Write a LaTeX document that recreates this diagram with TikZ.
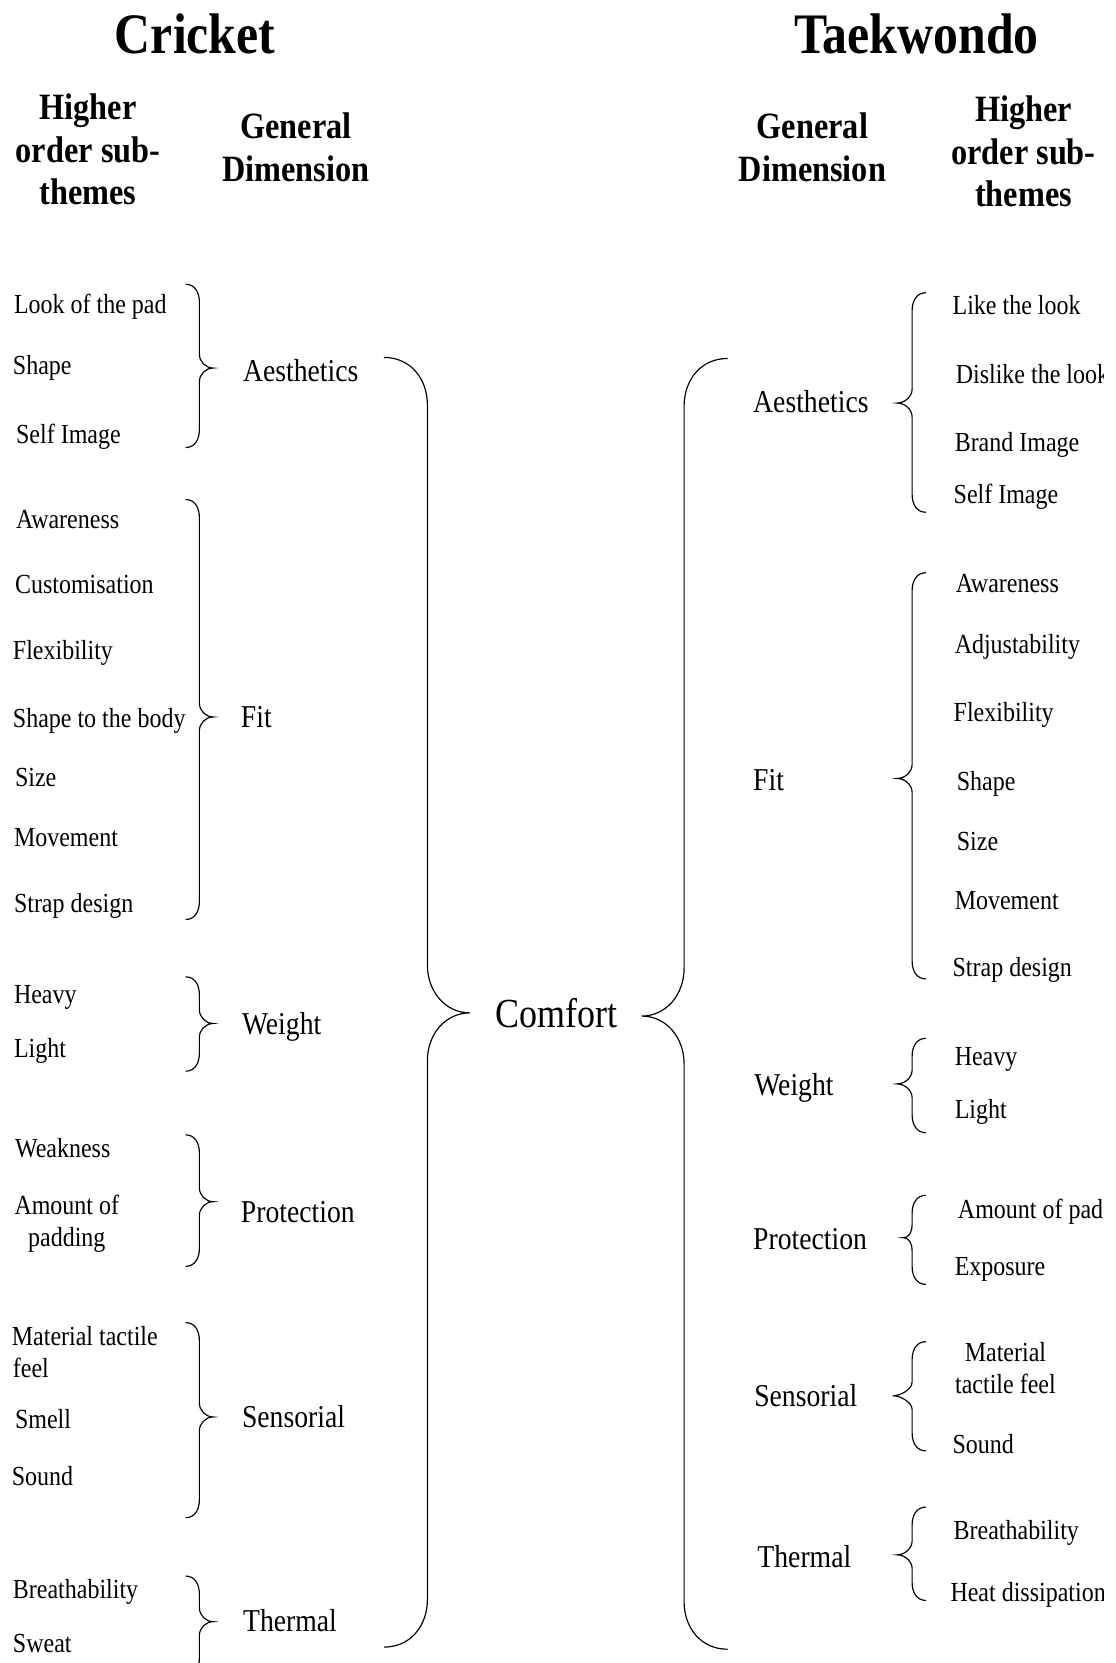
\documentclass[tikz,border=0pt]{standalone}
\usepackage{fontspec}
\setmainfont{Liberation Serif}[FakeStretch=0.87]
\begin{document}
% left-hand curl: tip points right (args: top, tip, bottom)
\newcommand{\curltoright}[3]{%
  \draw[curl] (175,#1) .. controls (184,#1) and (188,#1+8) .. (188,#1+17)
    -- (188,#2-13) .. controls (188,#2-6) and (194,#2) .. (201,#2)
    .. controls (194,#2) and (188,#2+6) .. (188,#2+13)
    -- (188,#3-17) .. controls (188,#3-8) and (184,#3) .. (175,#3);}
% right-hand curl: tip points left (args: top, tip, bottom, tip x)
\newcommand{\curltoleft}[4]{%
  \draw[curl] (873,#1) .. controls (864,#1) and (860,#1+8) .. (860,#1+17)
    -- (860,#2-13) .. controls (860,#2-6) and (#4+7,#2) .. (#4,#2)
    .. controls (#4+7,#2) and (860,#2+6) .. (860,#2+13)
    -- (860,#3-17) .. controls (860,#3-8) and (864,#3) .. (873,#3);}
\begin{tikzpicture}[x=1pt,y=-1pt,
  curl/.style={line width=1.1pt,black},
  item/.style={anchor=base west,inner sep=0pt,font=\fontsize{26}{30}\selectfont},
  itemc/.style={anchor=base,inner sep=0pt,font=\fontsize{26}{30}\selectfont},
  dim/.style={anchor=base west,inner sep=0pt,font=\fontsize{30}{34}\selectfont},
  head/.style={anchor=base,inner sep=0pt,font=\bfseries\fontsize{35}{40}\selectfont},
  title/.style={anchor=base,inner sep=0pt,font=\bfseries\fontsize{54}{60}\selectfont}]
\useasboundingbox (0,0) rectangle (1052,1568);
% the drawing area ends a little short of the right edge
\clip (0,0) rectangle (1040,1568);

% titles
\node[title] (tcr) at (184,50) {Cricket};
\node[title] (ttk) at (864,50) {Taekwondo};

% column headings, cricket side
\node[head] (lh1) at (83,113) {Higher};
\node[head] (lh2) at (83,153) {order sub-};
\node[head] (lh3) at (83,193) {themes};
\node[head] (lg1) at (279,131) {General};
\node[head] (lg2) at (279,171) {Dimension};
% column headings, taekwondo side
\node[head] (rg1) at (766,131) {General};
\node[head] (rg2) at (766,171) {Dimension};
\node[head] (rh1) at (965,115) {Higher};
\node[head] (rh2) at (965,155) {order sub-};
\node[head] (rh3) at (965,195) {themes};

% centre
\node[anchor=base,inner sep=0pt,font=\fontsize{39}{44}\selectfont] (comfort) at (525,969) {Comfort};

% cricket sub-themes
\node[item] (c1) at (13,296) {Look of the pad};
\node[item] (c2) at (12,353) {Shape};
\node[item] (c3) at (15,418) {Self Image};
\node[item] (c4) at (15,498) {Awareness};
\node[item] (c5) at (14,560) {Customisation};
\node[item] (c6) at (12,622) {Flexibility};
\node[item] (c7) at (12,686) {Shape to the body};
\node[item] (c8) at (14,742) {Size};
\node[item] (c9) at (13,798) {Movement};
\node[item] (c10) at (13,860) {Strap design};
\node[item] (c11) at (13,946) {Heavy};
\node[item] (c12) at (13,997) {Light};
\node[item] (c13) at (14,1091) {Weakness};
\node[itemc] (c14a) at (63,1145) {Amount of};
\node[itemc] (c14b) at (63,1175) {padding};
\node[item] (c15a) at (11,1269) {Material tactile};
\node[item] (c15b) at (12,1299) {feel};
\node[item] (c16) at (14,1347) {Smell};
\node[item] (c17) at (11,1401) {Sound};
\node[item] (c18) at (12,1507) {Breathability};
\node[item] (c19) at (12,1558) {Sweat};

% cricket dimensions
\node[dim] (cd1) at (229,360) {Aesthetics};
\node[dim] (cd2) at (227,686) {Fit};
\node[dim] (cd3) at (228,975) {Weight};
\node[dim] (cd4) at (227,1153) {Protection};
\node[dim] (cd5) at (228,1346) {Sensorial};
\node[dim] (cd6) at (229,1538) {Thermal};

% taekwondo dimensions
\node[dim] (td1) at (710,389) {Aesthetics};
\node[dim] (td2) at (710,745) {Fit};
\node[dim] (td3) at (711,1033) {Weight};
\node[dim] (td4) at (710,1178) {Protection};
\node[dim] (td5) at (711,1326) {Sensorial};
\node[dim] (td6) at (714,1478) {Thermal};

% taekwondo sub-themes
\node[item] (t1) at (898,297) {Like the look};
\node[item] (t2) at (901,362) {Dislike the look};
\node[item] (t3) at (900,426) {Brand Image};
\node[item] (t4) at (899,475) {Self Image};
\node[item] (t5) at (901,559) {Awareness};
\node[item] (t6) at (900,616) {Adjustability};
\node[item] (t7) at (899,680) {Flexibility};
\node[item] (t8) at (902,745) {Shape};
\node[item] (t9) at (902,802) {Size};
\node[item] (t10) at (900,858) {Movement};
\node[item] (t11) at (898,921) {Strap design};
\node[item] (t12) at (900,1005) {Heavy};
\node[item] (t13) at (900,1055) {Light};
\node[item] (t14) at (903,1149) {Amount of padding};
\node[item] (t15) at (900,1203) {Exposure};
\node[itemc] (t16a) at (948,1284) {Material};
\node[itemc] (t16b) at (948,1314) {tactile feel};
\node[item] (t17) at (898,1370) {Sound};
\node[item] (t18) at (899,1452) {Breathability};
\node[item] (t19) at (896,1510) {Heat dissipation};

% cricket curls
\curltoright{268}{347}{422}
\curltoright{471}{676}{867}
\curltoright{921}{965}{1010}
\curltoright{1070}{1133}{1194}
\curltoright{1247}{1336}{1431}
\curltoright{1486}{1529}{1580}

% taekwondo curls
\curltoleft{276}{380}{483}{846}
\curltoleft{540}{734}{923}{846}
\curltoleft{979}{1022}{1068}{846}
\curltoleft{1127}{1167}{1211}{851}
\curltoleft{1265}{1316}{1368}{842}
\curltoleft{1421}{1466}{1509}{846}

% large curls around Comfort
\draw[curl] (362,337) .. controls (387,337) and (403,357) .. (403,382)
  -- (403,910) .. controls (403,935) and (420,955) .. (443,955)
  .. controls (420,955) and (403,975) .. (403,1000)
  -- (403,1508) .. controls (403,1533) and (387,1553) .. (362,1553);
\draw[curl] (686,338) .. controls (661,338) and (645,358) .. (645,383)
  -- (645,913) .. controls (645,938) and (628,958) .. (605,958)
  .. controls (628,958) and (645,978) .. (645,1003)
  -- (645,1510) .. controls (645,1535) and (661,1555) .. (686,1555);
\end{tikzpicture}
\end{document}
